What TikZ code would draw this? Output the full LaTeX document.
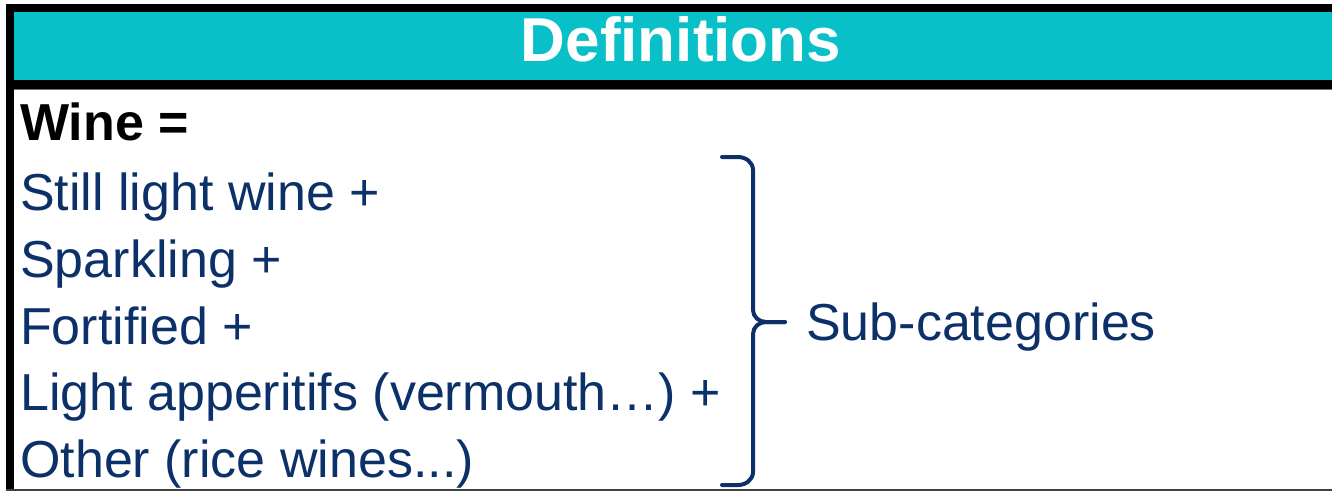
\documentclass[tikz,border=0pt]{standalone}
\usepackage{fontspec}
\setmainfont{Liberation Sans}
\definecolor{tealhead}{RGB}{10,192,200}
\definecolor{navy}{RGB}{12,48,104}
\begin{document}
\begin{tikzpicture}[x=1pt,y=-1pt,
  txt/.style={anchor=base west, inner sep=0pt, text=navy, font=\fontsize{52}{52}\selectfont},
  brace/.style={draw=navy, line width=4pt, line cap=round, line join=round}]
\useasboundingbox (0,0) rectangle (1332,492);
% frame
\fill[black] (6,4) rectangle (1332,12);
\fill[tealhead] (14,12) rectangle (1332,80);
\fill[black] (6,80) rectangle (1332,89);
\fill[black!55] (14,89) rectangle (1332,90.5);
\fill[black] (6,4) rectangle (14,491);
\fill[black!75] (6,489) rectangle (1332,491);
% title
\node[anchor=base, inner sep=0pt, text=white, font=\fontsize{62}{62}\selectfont\bfseries] (title) at (681,62) {Definitions};
% texts
\node[txt, text=black, font=\fontsize{52}{52}\selectfont\bfseries] (wine) at (20,140) {Wine =};
\node[txt] (still) at (20,210) {Still light wine +};
\node[txt] (spark) at (20,277) {Sparkling +};
\node[txt] (fort) at (20,344) {Fortified +};
\node[txt] (light) at (20,410) {Light apperitifs (vermouth\ldots) +};
\node[txt] (other) at (20,477) {Other (rice wines...)};
\node[txt] (sub) at (806,340) {Sub-categories};
% brace
\draw[brace] (722,157) -- (738,157) to[out=0,in=90] (753,170) -- (753,310)
  to[out=-90,in=180] (766,322) -- (785,322);
\draw[brace] (785,322) -- (766,322) to[out=180,in=90] (753,334) -- (753,472)
  to[out=-90,in=0] (738,485) -- (722,485);
\end{tikzpicture}
\end{document}
